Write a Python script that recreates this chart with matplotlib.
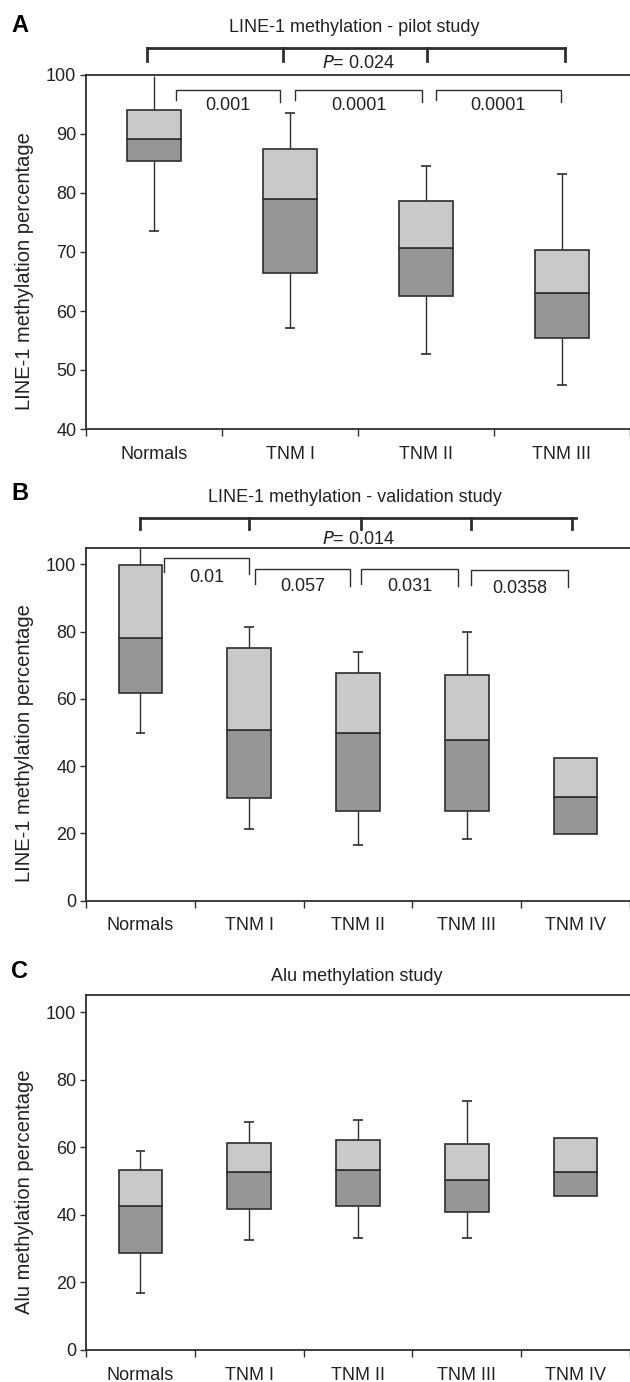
import matplotlib
matplotlib.use("Agg")
import matplotlib.pyplot as plt

plt.rcParams["font.family"] = ["Liberation Sans", "DejaVu Sans"]

# Data
groups_a = ["Normals", "TNM I", "TNM II", "TNM III"]
groups_bc = ["Normals", "TNM I", "TNM II", "TNM III", "TNM IV"]

# panel A - LINE-1 pilot study
a_low = [73.6, 57.1, 52.7, 47.5]
a_q1 = [85.5, 66.4, 62.5, 55.5]
a_med = [89.2, 79.0, 70.6, 63.1]
a_q3 = [94.0, 87.5, 78.7, 70.3]
a_high = [99.8, 93.5, 84.5, 83.3]

# panel B - LINE-1 validation study
b_low = [49.8, 21.3, 16.5, 18.4, None]
b_q1 = [61.8, 30.4, 26.6, 26.6, 19.9]
b_med = [78.0, 50.6, 49.8, 47.8, 30.9]
b_q3 = [99.8, 75.2, 67.6, 67.0, 42.5]
b_high = [105.0, 81.5, 73.9, 80.0, None]

# panel C - Alu methylation
c_low = [16.9, 32.7, 33.3, 33.3, None]
c_q1 = [28.8, 41.8, 42.6, 40.8, 45.5]
c_med = [42.6, 52.8, 53.2, 50.3, 52.8]
c_q3 = [53.2, 61.4, 62.3, 60.9, 62.7]
c_high = [58.9, 67.5, 68.0, 73.7, None]

# p-values
a_pairs = ["0.001", "0.0001", "0.0001"]
a_overall = "0.024"
b_pairs = ["0.01", "0.057", "0.031", "0.0358"]
b_overall = "0.014"

LIGHT = "#c8c9cb"
DARK = "#959698"
EDGE = "#2e2e2e"
TXT = "#222222"
FS = 13

W, H = 630, 1382
fig = plt.figure(figsize=(W / 100, H / 100), dpi=100)


def make_axes(top_px, bottom_px, ylim, ncat, cat_w):
    ax = fig.add_axes([86 / W, 1 - bottom_px / H, 1 - 86 / W, (bottom_px - top_px) / H])
    ax.set_ylim(*ylim)
    ax.set_xlim(-0.5, -0.5 + (W - 86) / cat_w)
    ax.spines["right"].set_visible(False)
    for s in ["left", "bottom", "top"]:
        ax.spines[s].set_color(EDGE)
        ax.spines[s].set_linewidth(1.3)
    ax.set_xticks(range(ncat))
    ax.set_xticks([i - 0.5 for i in range(ncat + 1)], minor=True)
    ax.tick_params(axis="x", which="major", length=0, pad=12, labelsize=FS, colors=TXT)
    ax.tick_params(axis="x", which="minor", length=5, width=1, color=EDGE, direction="out")
    ax.tick_params(axis="y", length=4, width=1, color=EDGE, labelsize=FS, labelcolor=TXT, pad=3)
    return ax


def set_ylab(ax, text):
    ax.set_ylabel(text, fontsize=14.5, color=TXT)
    ax.yaxis.set_label_coords(-0.095, 0.445)


def draw_boxes(ax, low, q1, med, q3, high, cap_w=0.09):
    n = len(q1)
    x = list(range(n))
    ax.bar(x, [m - q for m, q in zip(med, q1)], bottom=q1, width=0.4,
           color=DARK, edgecolor=EDGE, linewidth=1.2, zorder=3)
    ax.bar(x, [q - m for q, m in zip(q3, med)], bottom=med, width=0.4,
           color=LIGHT, edgecolor=EDGE, linewidth=1.2, zorder=3)
    for i in range(n):
        if low[i] is not None:
            ax.vlines(i, low[i], q1[i], color=EDGE, lw=1, zorder=2)
            ax.hlines(low[i], i - cap_w / 2, i + cap_w / 2, color=EDGE, lw=1.2, zorder=2)
        if high[i] is not None:
            ax.vlines(i, q3[i], high[i], color=EDGE, lw=1, zorder=2, clip_on=False)
            if high[i] < ax.get_ylim()[1] - 0.5:
                ax.hlines(high[i], i - cap_w / 2, i + cap_w / 2, color=EDGE, lw=1.2, zorder=2)


def bracket(ax, x0, x1, y, drop_l, drop_r, lw=1.0):
    ax.plot([x0, x0, x1, x1], [y - drop_l, y, y, y - drop_r],
            color=EDGE, lw=lw, clip_on=False, solid_joinstyle="miter")


# ---------------- Panel A ----------------
axA = make_axes(75, 429, (40, 100), 4, 138.7)
draw_boxes(axA, a_low, a_q1, a_med, a_q3, a_high, cap_w=0.08)
axA.set_xticklabels(groups_a)
axA.set_yticks([40, 50, 60, 70, 80, 90, 100])
set_ylab(axA, "LINE-1 methylation percentage")
axA.text(1.47, 108.0, "LINE-1 methylation - pilot study", fontsize=FS, color=TXT,
         ha="center", va="center", clip_on=False)
# overall bracket
axA.plot([-0.05, 3.02], [104.6, 104.6], color=EDGE, lw=2, clip_on=False)
for xt in [-0.05, 0.95, 2.01, 3.02]:
    axA.plot([xt, xt], [104.6, 102.4], color=EDGE, lw=2, clip_on=False)
axA.text(1.5, 102.0, "$\\it{P}$= " + a_overall, fontsize=FS, color=TXT,
         ha="center", va="center", clip_on=False)
a_br = [(0.16, 0.93), (1.04, 1.97), (2.07, 2.99)]
for (x0, x1), p in zip(a_br, a_pairs):
    bracket(axA, x0, x1, 97.5, 1.7, 2.0)
    axA.text((x0 + x1) / 2, 94.9, p, fontsize=FS, color=TXT, ha="center", va="center")
fig.text(20 / W, 1 - 25 / H, "A", fontsize=17, fontweight="bold", ha="center", va="center")

# ---------------- Panel B ----------------
axB = make_axes(547.6, 900.5, (0, 105), 5, 110.5)
draw_boxes(axB, b_low, b_q1, b_med, b_q3, b_high)
axB.set_xticklabels(groups_bc)
axB.set_yticks([0, 20, 40, 60, 80, 100])
set_ylab(axB, "LINE-1 methylation percentage")
axB.text(1.97, 119.8, "LINE-1 methylation - validation study", fontsize=FS, color=TXT,
         ha="center", va="center", clip_on=False)
axB.plot([0, 4], [113.7, 113.7], color=EDGE, lw=2, clip_on=False)
for xt in [0, 1, 2.03, 3.04, 3.97]:
    axB.plot([xt, xt], [113.7, 110.4], color=EDGE, lw=2, clip_on=False)
axB.text(2.0, 107.3, "$\\it{P}$= " + b_overall, fontsize=FS, color=TXT,
         ha="center", va="center", clip_on=False)
b_br = [(0.22, 1.0, 102.0), (1.05, 1.93, 98.5), (2.03, 2.92, 98.5), (3.04, 3.93, 98.3)]
b_txt_y = [96.0, 93.4, 93.4, 92.9]
for (x0, x1, y), p, ty in zip(b_br, b_pairs, b_txt_y):
    bracket(axB, x0, x1, y, 4.4, 5.0)
    axB.text((x0 + x1) / 2, ty, p, fontsize=FS, color=TXT, ha="center", va="center")
fig.text(20 / W, 1 - 493 / H, "B", fontsize=17, fontweight="bold", ha="center", va="center")

# ---------------- Panel C ----------------
axC = make_axes(995.4, 1350, (0, 105), 5, 110.5)
draw_boxes(axC, c_low, c_q1, c_med, c_q3, c_high)
axC.set_xticklabels(groups_bc)
axC.set_yticks([0, 20, 40, 60, 80, 100])
set_ylab(axC, "Alu methylation percentage")
axC.text(1.99, 110.7, "Alu methylation study", fontsize=FS, color=TXT,
         ha="center", va="center", clip_on=False)
fig.text(20 / W, 1 - 972 / H, "C", fontsize=17, fontweight="bold", ha="center", va="center")

fig.savefig("out.png", dpi=100)
